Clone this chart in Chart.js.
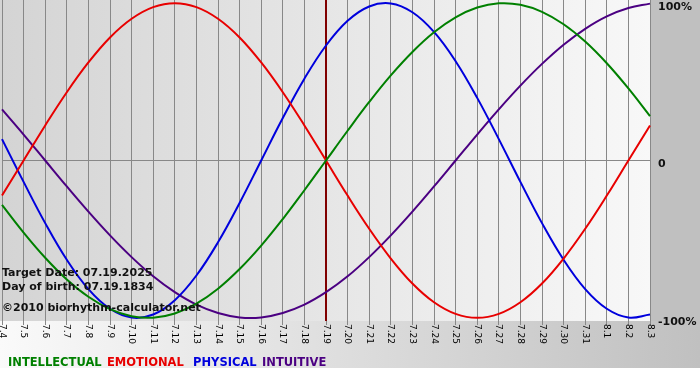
<!DOCTYPE html>
<html>
<head>
<meta charset="utf-8">
<script src="https://cdn.jsdelivr.net/npm/chart.js@4/dist/chart.umd.min.js"></script>
<style>
html,body{margin:0;padding:0;background:#fff;}
#wrap{width:700px;height:380px;position:relative;}
</style>
</head>
<body>
<div id="wrap"><canvas id="c" width="700" height="380"></canvas></div>
<script>
const days = ['7.4','7.5','7.6','7.7','7.8','7.9','7.10','7.11','7.12','7.13','7.14','7.15','7.16','7.17','7.18','7.19','7.20','7.21','7.22','7.23','7.24','7.25','7.26','7.27','7.28','7.29','7.30','7.31','8.1','8.2','8.3'];
const intellectual = [-0.282,-0.458,-0.618,-0.756,-0.866,-0.945,-0.990,-0.999,-0.972,-0.910,-0.815,-0.690,-0.541,-0.372,-0.189,0.000,0.189,0.372,0.541,0.690,0.815,0.910,0.972,0.999,0.990,0.945,0.866,0.756,0.618,0.458,0.282];
const emotional = [-0.223,0.000,0.223,0.434,0.623,0.782,0.901,0.975,1.000,0.975,0.901,0.782,0.623,0.434,0.223,0.000,-0.223,-0.434,-0.623,-0.782,-0.901,-0.975,-1.000,-0.975,-0.901,-0.782,-0.623,-0.434,-0.223,0.000,0.223];
const physical = [0.136,-0.136,-0.398,-0.631,-0.817,-0.942,-0.998,-0.979,-0.888,-0.731,-0.520,-0.270,0.000,0.270,0.520,0.731,0.888,0.979,0.998,0.942,0.817,0.631,0.398,0.136,-0.136,-0.398,-0.631,-0.817,-0.942,-0.998,-0.979];
const intuitive = [0.325,0.165,0.000,-0.165,-0.325,-0.476,-0.614,-0.736,-0.837,-0.916,-0.969,-0.997,-0.997,-0.969,-0.916,-0.837,-0.736,-0.614,-0.476,-0.325,-0.165,0.000,0.165,0.325,0.476,0.614,0.736,0.837,0.916,0.969,0.997];
const seriesNames = ['INTELLECTUAL','EMOTIONAL','PHYSICAL','INTUITIVE'];
const yTicks = [1, 0, -1];
const yTickLabels = ['100%', '0', '-100%'];
const targetDay = '7.19';
const infoLines = ['Target Date: 07.19.2025', 'Day of birth: 07.19.1834', '\u00A92010 biorhythm-calculator.net'];

const colors = ['#008000', '#e80000', '#0000dd', '#4b0082'];
const legendX = [8, 107, 193, 262];

const decor = {
  id: 'decor',
  beforeDraw(chart) {
    const ctx = chart.ctx, ca = chart.chartArea;
    const W = chart.width, H = chart.height;
    ctx.save();
    ctx.fillStyle = '#fff';
    ctx.fillRect(0, 0, W, H);
    let g = ctx.createLinearGradient(0, 0, W, 0);
    g.addColorStop(0, '#fafafa');
    g.addColorStop(1, '#c0c0c0');
    ctx.fillStyle = g;
    ctx.fillRect(0, 0, W, 368);
    ctx.fillStyle = '#c0c0c0';
    ctx.fillRect(ca.right, 0, W - ca.right, ca.bottom);
    g = ctx.createLinearGradient(0, 0, ca.right, 0);
    g.addColorStop(0, '#d4d4d4');
    g.addColorStop(1, '#f8f8f8');
    ctx.fillStyle = g;
    ctx.fillRect(0, 0, ca.right + 1, ca.bottom);
    ctx.restore();
  },
  beforeDatasetsDraw(chart) {
    const ctx = chart.ctx, ca = chart.chartArea;
    const xs = chart.scales.x;
    const x = xs.getPixelForValue(days.indexOf(targetDay));
    ctx.save();
    ctx.strokeStyle = '#800000';
    ctx.lineWidth = 2;
    ctx.beginPath();
    ctx.moveTo(x, ca.top);
    ctx.lineTo(x, ca.bottom);
    ctx.stroke();
    ctx.restore();
  },
  afterDatasetsDraw(chart) {
    const ctx = chart.ctx, ca = chart.chartArea;
    const xs = chart.scales.x, ys = chart.scales.y;
    ctx.save();
    ctx.font = '9px "DejaVu Sans"';
    ctx.fillStyle = '#000';
    ctx.textAlign = 'left';
    ctx.textBaseline = 'middle';
    days.forEach((d, i) => {
      const x = xs.getPixelForValue(i);
      ctx.save();
      ctx.translate(x, ca.bottom + 3);
      ctx.rotate(Math.PI / 2);
      ctx.fillText(d, 0, 0);
      ctx.restore();
    });
    ctx.font = 'bold 11px "DejaVu Sans"';
    ctx.fillStyle = '#111';
    ctx.textBaseline = 'middle';
    yTicks.forEach((v, i) => {
      let y = ys.getPixelForValue(v) + 4;
      if (y < 7) y = 7;
      ctx.fillText(yTickLabels[i], ca.right + 8, y);
    });
    ctx.font = 'bold 11px "DejaVu Sans"';
    ctx.fillStyle = '#111';
    ctx.textBaseline = 'alphabetic';
    const base = [276, 290, 311];
    infoLines.forEach((t, i) => ctx.fillText(t, 2, base[i]));
    ctx.font = 'bold 11.5px "DejaVu Sans"';
    chart.data.datasets.forEach((ds, i) => {
      ctx.fillStyle = ds.borderColor;
      ctx.fillText(ds.label, legendX[i], 366);
    });
    ctx.restore();
  }
};

new Chart(document.getElementById('c'), {
  type: 'line',
  data: {
    labels: days,
    datasets: [
      { label: seriesNames[0], data: intellectual, borderColor: colors[0] },
      { label: seriesNames[1], data: emotional, borderColor: colors[1] },
      { label: seriesNames[2], data: physical, borderColor: colors[2] },
      { label: seriesNames[3], data: intuitive, borderColor: colors[3] }
    ]
  },
  options: {
    responsive: false,
    animation: false,
    devicePixelRatio: 1,
    layout: { padding: { left: 2, right: 50, top: 0, bottom: 55 } },
    elements: {
      line: { borderWidth: 2, tension: 0.4, fill: false },
      point: { radius: 0, hoverRadius: 0 }
    },
    plugins: { legend: { display: false }, tooltip: { enabled: false } },
    scales: {
      x: {
        type: 'category',
        offset: false,
        border: { display: false },
        grid: { color: '#888', lineWidth: 1, drawTicks: true, tickLength: 4, tickColor: '#888', offset: false },
        ticks: { display: false }
      },
      y: {
        min: -1.02, max: 1.02,
        border: { display: false },
        afterBuildTicks(scale) { scale.ticks = yTicks.map(v => ({ value: v })); },
        grid: { drawTicks: false, color: ctx => (ctx.tick && ctx.tick.value === 0 ? '#888' : 'rgba(0,0,0,0)') },
        ticks: { display: false }
      }
    }
  },
  plugins: [decor]
});
</script>
</body>
</html>
